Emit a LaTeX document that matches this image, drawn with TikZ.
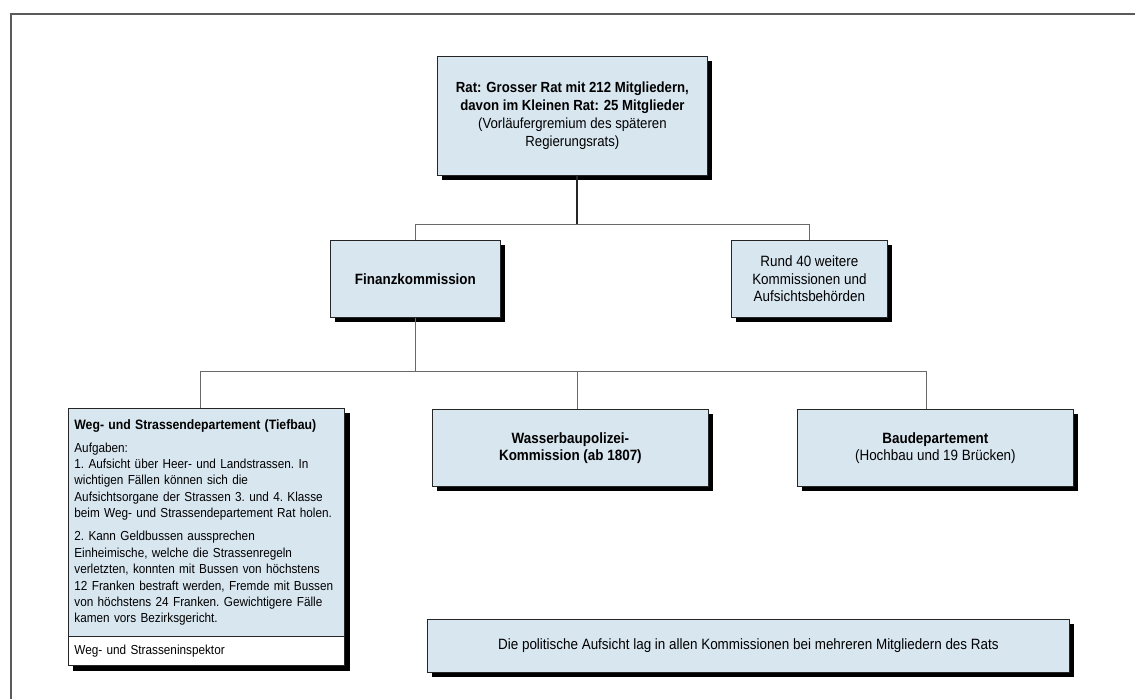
\documentclass[tikz,border=0pt]{standalone}
\usepackage{fontspec}
\setmainfont{Liberation Sans}[FakeStretch=0.9]
\usetikzlibrary{shadows,backgrounds}
\definecolor{boxfill}{RGB}{216,230,240}
\definecolor{linegray}{RGB}{105,105,105}
\definecolor{framegray}{RGB}{90,90,90}

\begin{document}
\begin{tikzpicture}[x=0.75pt,y=-0.75pt,
  box/.style={rectangle, draw=black!85, line width=0.6pt, fill=boxfill,
    anchor=north west, inner sep=0pt, align=center,
    drop shadow={shadow xshift=3.75pt, shadow yshift=-3.75pt, fill=black, opacity=1}},
  flatbox/.style={rectangle, draw=black!85, line width=0.6pt,
    anchor=north west, inner xsep=4.5pt, inner ysep=0pt, align=left},
  link/.style={draw=linegray, line width=0.6pt},
  bigtext/.style={font=\fontsize{11}{13.5}\selectfont},
  midtext/.style={font=\fontsize{11.2}{13}\selectfont},
  smalltext/.style={font=\fontsize{9.8}{12.3}\selectfont\frenchspacing}]

\useasboundingbox (0,0) rectangle (1135,699);

% page frame
\draw[framegray, line width=0.9pt] (1135,14) -- (11,14) -- (11,699);

% top level
\node[box, bigtext, minimum width=202.5pt, minimum height=89.25pt] (rat) at (437,56)
  {\textbf{Rat: Grosser Rat mit 212 Mitgliedern,}\\
   \textbf{davon im Kleinen Rat: 25 Mitglieder}\\
   (Vorläufergremium des späteren\\
   Regierungsrats)};

% second level
\node[box, midtext, minimum width=127.5pt, minimum height=57.75pt] (fin) at (330,240)
  {\textbf{Finanzkommission}};
\node[box, midtext, minimum width=117pt, minimum height=57.75pt] (rund) at (731,240)
  {Rund 40 weitere\\ Kommissionen und\\ Aufsichtsbehörden};

% third level
\node[box, midtext, minimum width=207pt, minimum height=57.75pt] (wasser) at (432,409)
  {\textbf{Wasserbaupolizei-}\\ \textbf{Kommission (ab 1807)}};
\node[box, midtext, minimum width=207pt, minimum height=57.75pt] (bau) at (797,409)
  {\textbf{Baudepartement}\\ (Hochbau und 19 Brücken)};

% road department with its inspector row
\node[flatbox, smalltext, fill=boxfill, text width=198pt, minimum height=171pt] (tief) at (68,408)
  {\textbf{\fontsize{10.2}{12.2}\selectfont Weg- und Strassendepartement (Tiefbau)}\\[5pt]
   Aufgaben:\\
   1. Aufsicht über Heer- und Landstrassen. In\\
   wichtigen Fällen können sich die\\
   Aufsichtsorgane der Strassen 3. und 4. Klasse\\
   beim Weg- und Strassendepartement Rat holen.\\[5pt]
   2. Kann Geldbussen aussprechen\\
   Einheimische, welche die Strassenregeln\\
   verletzten, konnten mit Bussen von höchstens\\
   12 Franken bestraft werden, Fremde mit Bussen\\
   von höchstens 24 Franken. Gewichtigere Fälle\\
   kamen vors Bezirksgericht.};
\node[flatbox, smalltext, fill=white, text width=198pt, minimum height=21.75pt] (insp) at (68,636)
  {Weg- und Strasseninspektor};
\begin{scope}[on background layer]
  \fill[black] ([shift={(5,5)}]tief.north west) rectangle ([shift={(5,5)}]insp.south east);
\end{scope}

% note
\node[box, midtext, minimum width=481.5pt, minimum height=39.75pt] (note) at (427,619)
  {Die politische Aufsicht lag in allen Kommissionen bei mehreren Mitgliedern des Rats};

% connectors
\coordinate (j1) at (577,224);
\coordinate (j2) at (414,371);
\coordinate (dL) at (200,371);
\coordinate (dM) at (577,371);
\coordinate (dR) at (926,371);

\draw[link, line width=0.8pt, black!85] (rat.south -| j1) -- (j1);
\draw[link] (fin.north) -- (fin.north |- j1) -- (rund.north |- j1) -- (rund.north);
\draw[link] (fin.south) -- (fin.south |- j2);
\draw[link] (dL) -- (dR);
\draw[link] (dL) -- (dL |- tief.north);
\draw[link] (dM) -- (dM |- wasser.north);
\draw[link] (dR) -- (dR |- bau.north);
\end{tikzpicture}
\end{document}
